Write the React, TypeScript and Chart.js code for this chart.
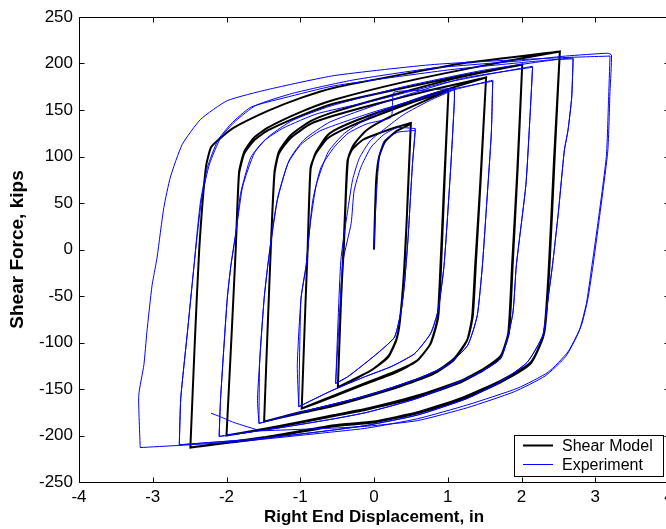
import React, { useEffect, useRef } from "react";
import { Chart, registerables } from "chart.js";

Chart.register(...registerables);

type P = [number, number];

// Axis ticks
const xTicks = [-4, -3, -2, -1, 0, 1, 2, 3, 4];
const yTicks = [-250, -200, -150, -100, -50, 0, 50, 100, 150, 200, 250];

// Legend labels
const legendLabels = ["Shear Model", "Experiment"];

// ---------- Shear Model (black) branches: [displacement in, shear kips] ----------
const modelInit: P[] = [[0, 0], [0.01, 30], [0.03, 75], [0.07, 100], [0.15, 116], [0.3, 127], [0.5, 135]];
const modelUnloadA: P[] = [[0.5, 136], [0.46, 63], [0.42, -10], [0.36, -70], [0.31, -95], [0.2, -114], [0.0, -128], [-0.25, -139], [-0.49, -148]];
const modelReloadA: P[] = [[-0.49, -148], [-0.45, -60], [-0.42, -10], [-0.39, 45], [-0.36, 95], [-0.3, 107], [-0.15, 118], [0.1, 126], [0.32, 132], [0.5, 136]];
const modelUnloadA2: P[] = [[0.5, 136], [0.46, 60], [0.41, -20], [0.35, -78], [0.3, -98], [0.19, -116], [-0.04, -130], [-0.31, -141], [-0.49, -148]];
const modelReloadAB: P[] = [[-0.49, -148], [-0.44, -40], [-0.41, 0], [-0.38, 60], [-0.35, 98], [-0.28, 112], [-0.12, 127], [0.1, 138], [0.55, 155], [1.01, 171]];

const modelUnloadB: P[] = [[1.01, 171], [0.96, 80], [0.91, -17], [0.87, -73], [0.77, -101], [0.59, -119], [0.32, -130], [-0.13, -144], [-0.54, -157], [-0.98, -171]];
const modelReloadB: P[] = [[-0.98, -171], [-0.93, -60], [-0.9, 0], [-0.86, 88], [-0.79, 103], [-0.65, 118], [-0.54, 124], [-0.31, 133], [0.1, 146], [0.55, 159], [1.01, 171]];
const modelUnloadB2: P[] = [[1.01, 171], [0.95, 70], [0.9, -20], [0.86, -75], [0.76, -102], [0.58, -120], [0.3, -132], [-0.13, -145], [-0.54, -158], [-0.98, -171]];
const modelReloadBC: P[] = [[-0.98, -171], [-0.93, -60], [-0.9, 0], [-0.86, 86], [-0.79, 104], [-0.65, 121], [-0.54, 128], [-0.2, 140], [0.3, 154], [0.9, 170], [1.52, 185]];

const modelUnloadC: P[] = [[1.52, 185], [1.45, 80], [1.38, -17], [1.34, -71], [1.27, -96], [1.09, -117], [0.82, -132], [0.36, -146], [-0.09, -157], [-0.54, -167], [-1.0, -175], [-1.49, -185]];
const modelReloadC: P[] = [[-1.49, -185], [-1.44, -80], [-1.4, 0], [-1.35, 81], [-1.29, 103], [-1.13, 120], [-0.86, 135], [-0.54, 144], [0, 156], [0.8, 172], [1.52, 185]];
const modelUnloadC2: P[] = [[1.52, 185], [1.44, 70], [1.37, -20], [1.33, -73], [1.26, -98], [1.08, -119], [0.8, -134], [0.36, -147], [-0.09, -158], [-0.54, -168], [-1.0, -176], [-1.49, -185]];
const modelReloadCD: P[] = [[-1.49, -185], [-1.44, -80], [-1.4, 0], [-1.35, 83], [-1.29, 105], [-1.13, 123], [-0.86, 138], [-0.54, 148], [0.2, 165], [1.1, 184], [2.01, 199]];

const modelUnloadD: P[] = [[2.01, 199], [1.95, 90], [1.88, -17], [1.83, -89], [1.72, -114], [1.49, -128], [1.18, -141], [0.59, -157], [-0.09, -171], [-0.54, -178], [-1.3, -190], [-2.0, -200]];
const modelReloadD: P[] = [[-2.0, -200], [-1.93, -90], [-1.875, 0], [-1.83, 81], [-1.76, 103], [-1.63, 117], [-1.44, 128], [-0.99, 144], [-0.54, 157], [0.3, 172], [1.2, 187], [2.01, 199]];
const modelUnloadD2: P[] = [[2.01, 199], [1.94, 80], [1.87, -20], [1.82, -90], [1.71, -116], [1.48, -130], [1.17, -143], [0.59, -159], [-0.09, -172], [-0.54, -179], [-1.3, -191], [-2.0, -200]];
const modelReloadDE: P[] = [[-2.0, -200], [-1.93, -90], [-1.875, 0], [-1.83, 83], [-1.76, 105], [-1.63, 120], [-1.44, 131], [-0.99, 148], [-0.54, 161], [0.4, 180], [1.5, 198], [2.52, 213]];

const modelUnloadE: P[] = [[2.52, 213], [2.45, 100], [2.38, -17], [2.31, -89], [2.13, -121], [1.72, -141], [1.18, -160], [0.59, -175], [0, -185], [-0.54, -189], [-1.5, -202], [-2.49, -213]];
const modelReloadE: P[] = [[-2.49, -213], [-2.43, -100], [-2.37, 0], [-2.28, 88], [-2.21, 110], [-2.08, 120], [-1.9, 131], [-1.44, 149], [-0.99, 163], [-0.54, 174], [0.5, 190], [1.27, 201], [2.52, 213]];
const modelUnloadE2: P[] = [[2.52, 213], [2.44, 95], [2.37, -20], [2.3, -92], [2.12, -123], [1.71, -143], [1.17, -162], [0.59, -176], [0, -186], [-0.54, -190], [-1.5, -203], [-2.49, -213]];

// ---------- Experiment (blue) branches ----------
const expInit: P[] = [[0, 0], [0.02, 40], [0.07, 99], [0.14, 117], [0.32, 126], [0.55, 128]];
const expUnloadA: P[] = [[0.56, 129], [0.52, 90], [0.46, 10], [0.41, -40], [0.37, -65], [0.28, -94], [0.1, -108], [-0.13, -123], [-0.36, -137], [-0.52, -144]];
const expReloadA: P[] = [[-0.52, -144], [-0.46, -60], [-0.42, -12], [-0.31, 28], [-0.27, 63], [-0.18, 88], [-0.04, 110], [0.14, 124], [0.32, 131], [0.56, 130]];
const expReloadAB: P[] = [[-0.52, -144], [-0.45, -12], [-0.36, 40], [-0.29, 75], [-0.2, 98], [-0.05, 117], [0.15, 130], [0.4, 145], [0.75, 160], [1.09, 172]];

const expUnloadB: P[] = [[1.09, 172], [1.09, 160], [1.04, 88], [0.95, -17], [0.87, -65], [0.77, -90], [0.55, -112], [0.23, -126], [-0.13, -137], [-0.58, -152], [-1.02, -169]];
const expReloadB: P[] = [[-1.02, -169], [-1.04, -124], [-0.99, -53], [-0.92, -17], [-0.88, 17], [-0.83, 53], [-0.72, 88], [-0.54, 110], [-0.35, 125], [-0.1, 135], [0.23, 142], [0.25, 155], [0.27, 169], [0.6, 171], [1.09, 173]];
const expReloadBC: P[] = [[-1.02, -169], [-0.99, -53], [-0.92, -17], [-0.86, 30], [-0.78, 70], [-0.62, 105], [-0.4, 125], [0, 145], [0.8, 168], [1.61, 181]];

const expUnloadC: P[] = [[1.61, 181], [1.59, 124], [1.52, 40], [1.47, -17], [1.4, -71], [1.27, -103], [1.0, -124], [0.59, -139], [-0.09, -157], [-0.54, -166], [-1.0, -175], [-1.56, -187]];
const expReloadC: P[] = [[-1.56, -187], [-1.58, -160], [-1.49, -53], [-1.44, -17], [-1.38, 17], [-1.31, 53], [-1.17, 92], [-0.99, 113], [-0.72, 128], [0, 148], [0.8, 166], [1.61, 182]];
const expReloadCD: P[] = [[-1.56, -187], [-1.55, -120], [-1.49, -53], [-1.44, -17], [-1.38, 20], [-1.3, 58], [-1.15, 96], [-0.95, 118], [-0.6, 137], [0.2, 160], [1.2, 184], [2.15, 196]];

const expUnloadD: P[] = [[2.15, 196], [2.12, 150], [2.06, 70], [1.93, -17], [1.88, -70], [1.72, -117], [1.36, -135], [0.59, -160], [-0.09, -175], [-0.54, -182], [-1.3, -192], [-2.1, -201]];
const expReloadD: P[] = [[-2.1, -201], [-2.08, -160], [-1.99, -53], [-1.94, -17], [-1.875, 17], [-1.81, 60], [-1.67, 99], [-1.49, 117], [-1.22, 131], [-0.77, 146], [0, 160], [1.0, 180], [2.15, 197]];
const expReloadDE: P[] = [[-2.1, -201], [-2.08, -160], [-1.99, -53], [-1.94, -17], [-1.86, 25], [-1.78, 68], [-1.62, 104], [-1.42, 122], [-1.1, 139], [-0.6, 154], [0.4, 175], [1.5, 193], [2.45, 204], [2.7, 205]];

const expUnloadE: P[] = [[2.7, 205], [2.68, 163], [2.63, 128], [2.58, 106], [2.5, 40], [2.42, -17], [2.36, -53], [2.29, -92], [2.08, -121], [1.72, -142], [1.27, -160], [0.59, -178], [-0.09, -189], [-0.54, -194], [-1.5, -203], [-2.64, -210]];
const expReloadE: P[] = [[-2.64, -210], [-2.62, -160], [-2.53, -89], [-2.44, -17], [-2.4, 17], [-2.35, 53], [-2.26, 88], [-2.12, 117], [-1.94, 135], [-1.67, 153], [-1.22, 163], [-0.54, 176], [1.0, 193], [2.0, 201], [2.7, 206]];
const expReloadEF: P[] = [[-2.64, -210], [-2.62, -160], [-2.53, -89], [-2.44, -17], [-2.39, 20], [-2.33, 58], [-2.23, 92], [-2.08, 120], [-1.88, 138], [-1.6, 155], [-1.1, 168], [-0.3, 182], [0.8, 195], [2.0, 203], [2.6, 208], [3.17, 211]];

const expUnloadF: P[] = [[3.22, 209], [3.2, 170], [3.17, 106], [3.05, 30], [2.97, -17], [2.9, -53], [2.81, -82], [2.63, -110], [2.36, -132], [1.95, -149], [1.27, -167], [0.59, -182], [-0.09, -192], [-0.54, -196], [-1.9, -207], [-3.17, -213]];
const expReloadF: P[] = [[-3.17, -213], [-3.19, -157], [-3.12, -124], [-3.08, -89], [-3.01, -39], [-2.96, -17], [-2.94, -8], [-2.85, 45], [-2.76, 78], [-2.6, 113], [-2.35, 140], [-1.99, 160], [-1.44, 172], [-0.54, 187], [0.82, 199], [2.45, 206], [3.2, 208]];
const expUnloadF2: P[] = [[3.2, 208], [3.18, 160], [3.15, 100], [3.03, 25], [2.95, -20], [2.88, -58], [2.78, -88], [2.6, -115], [2.32, -136], [1.9, -153], [1.27, -170], [0.59, -184], [-0.09, -190], [-0.54, -192], [-1.54, -195]];
const expEnd: P[] = [[-1.54, -195], [-1.9, -186], [-2.08, -180], [-2.21, -176]];

const modelPath: P[][] = [
  modelInit, modelUnloadA, modelReloadA, modelUnloadA2, modelReloadAB,
  modelUnloadB, modelReloadB, modelUnloadB2, modelReloadBC,
  modelUnloadC, modelReloadC, modelUnloadC2, modelReloadCD,
  modelUnloadD, modelReloadD, modelUnloadD2, modelReloadDE,
  modelUnloadE, modelReloadE, modelUnloadE2,
];

const expPath: P[][] = [
  expInit, expUnloadA, expReloadA, expUnloadA, expReloadAB,
  expUnloadB, expReloadB, expUnloadB, expReloadBC,
  expUnloadC, expReloadC, expUnloadC, expReloadCD,
  expUnloadD, expReloadD, expUnloadD, expReloadDE,
  expUnloadE, expReloadE, expUnloadE, expReloadEF,
  expUnloadF, expReloadF, expUnloadF2, expEnd,
];

const toPoints = (branches: P[][]) => branches.flat().map(([x, y]) => ({ x, y }));

const FONT = "'Liberation Sans', Arial, Helvetica, sans-serif";

const framePlugin = {
  id: "frame",
  afterDraw(chart: any) {
    const { ctx, chartArea: a, scales } = chart;
    const L = Math.round(a.left) + 0.5;
    const R = Math.round(a.right) + 0.5;
    const T = Math.round(a.top) + 0.5;
    const B = Math.round(a.bottom) + 0.5;
    ctx.save();
    ctx.strokeStyle = "#000";
    ctx.lineWidth = 1;
    ctx.beginPath();
    ctx.moveTo(L, T);
    ctx.lineTo(R, T);
    ctx.lineTo(R, B);
    ctx.lineTo(L, B);
    ctx.closePath();
    const tl = 5;
    for (const v of xTicks) {
      const x = Math.round(scales.x.getPixelForValue(v)) + 0.5;
      ctx.moveTo(x, B);
      ctx.lineTo(x, B - tl);
      ctx.moveTo(x, T);
      ctx.lineTo(x, T + tl);
    }
    for (const v of yTicks) {
      const y = Math.round(scales.y.getPixelForValue(v)) + 0.5;
      ctx.moveTo(L, y);
      ctx.lineTo(L + tl, y);
      ctx.moveTo(R, y);
      ctx.lineTo(R - tl, y);
    }
    ctx.stroke();

    // legend box
    const lx = 514.5, ly = 435.5, lw = 149, lh = 41;
    ctx.fillStyle = "#fff";
    ctx.fillRect(lx, ly, lw, lh);
    ctx.strokeRect(lx, ly, lw, lh);
    const rows = [
      { text: legendLabels[0], color: "#000000", width: 2, y: 445.5 },
      { text: legendLabels[1], color: "#0000ff", width: 1, y: 464.5 },
    ];
    ctx.font = `16px ${FONT}`;
    ctx.textBaseline = "middle";
    ctx.textAlign = "left";
    for (const r of rows) {
      ctx.beginPath();
      ctx.strokeStyle = r.color;
      ctx.lineWidth = r.width;
      ctx.moveTo(523, r.y);
      ctx.lineTo(553, r.y);
      ctx.stroke();
      ctx.fillStyle = "#000";
      ctx.fillText(r.text, 562, r.y + 1);
    }
    ctx.restore();
  },
};

export default function App() {
  const ref = useRef<HTMLCanvasElement>(null);
  useEffect(() => {
    document.body.style.margin = "0";
    document.body.style.overflow = "hidden";
    const chart = new Chart(ref.current as HTMLCanvasElement, {
      type: "scatter",
      data: {
        datasets: [
          {
            label: legendLabels[1],
            data: toPoints(expPath),
            showLine: true,
            borderColor: "#0000ff",
            backgroundColor: "#0000ff",
            borderWidth: 1,
            pointRadius: 0,
            tension: 0.18,
            order: 0,
          },
          {
            label: legendLabels[0],
            data: toPoints(modelPath),
            showLine: true,
            borderColor: "#000000",
            backgroundColor: "#000000",
            borderWidth: 2,
            pointRadius: 0,
            tension: 0.18,
            order: 1,
          },
        ],
      },
      options: {
        responsive: false,
        animation: false,
        events: [],
        layout: { padding: { left: 0, top: 17, right: 3, bottom: 0 } },
        plugins: { legend: { display: false }, tooltip: { enabled: false } },
        scales: {
          x: {
            type: "linear",
            min: -4,
            max: 4,
            grid: { display: false, drawTicks: false },
            border: { display: false },
            ticks: {
              stepSize: 1,
              autoSkip: false,
              maxRotation: 0,
              padding: 5,
              color: "#000",
              font: { family: FONT, size: 17 },
            },
            title: {
              display: true,
              text: "Right End Displacement, in",
              color: "#000",
              font: { family: FONT, size: 17, weight: "bold" },
              padding: { top: 0, bottom: 1 },
            },
            afterFit: (s: any) => {
              s.height = 47;
              s.paddingLeft = 0;
              s.paddingRight = 0;
            },
          },
          y: {
            type: "linear",
            min: -250,
            max: 250,
            grid: { display: false, drawTicks: false },
            border: { display: false },
            ticks: {
              stepSize: 50,
              autoSkip: false,
              padding: 6,
              color: "#000",
              font: { family: FONT, size: 17 },
            },
            title: {
              display: true,
              text: "Shear Force, kips",
              color: "#000",
              font: { family: FONT, size: 19, weight: "bold" },
              padding: { top: 6, bottom: 0 },
            },
            afterFit: (s: any) => {
              s.width = 79;
              s.paddingTop = 0;
              s.paddingBottom = 0;
            },
          },
        },
      } as any,
      plugins: [framePlugin],
    });
    return () => chart.destroy();
  }, []);
  return (
    <div style={{ width: 666, height: 529, overflow: "hidden", position: "relative", background: "#fff" }}>
      <canvas ref={ref} width={672} height={529} style={{ display: "block" }} />
    </div>
  );
}
